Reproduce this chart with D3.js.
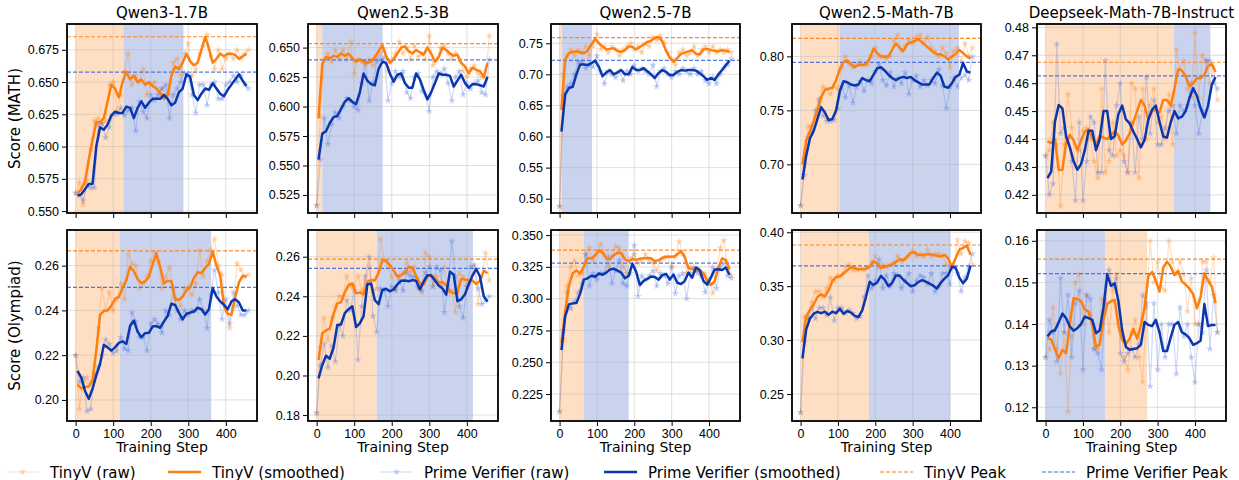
<!DOCTYPE html>
<html>
<head>
<meta charset="utf-8">
<script src="https://cdn.jsdelivr.net/npm/d3@7"></script>
<style>
  body { margin: 0; background: #fff; }
  svg { font-family: "DejaVu Sans", sans-serif; }
</style>
</head>
<body>
<div class="viz"></div>
<script>
const w = 1239;
const h = 480;

// ---- data: raw points every 10 steps from 0, smoothed every 10 steps from 5 ----

// Qwen3-1.7B, MATH
const q3mTinyRaw = [0.564,0.572,0.555,0.573,0.598,0.620,0.622,0.618,0.620,0.648,0.650,0.628,0.640,0.658,0.672,0.648,0.655,0.650,0.660,0.640,0.648,0.650,0.642,0.645,0.640,0.640,0.665,0.668,0.655,0.672,0.680,0.655,0.660,0.672,0.678,0.687,0.670,0.660,0.675,0.660,0.668,0.672,0.668,0.675,0.668,0.672,0.675];
const q3mTinySm = [0.564,0.567,0.573,0.590,0.605,0.619,0.619,0.622,0.635,0.648,0.645,0.638,0.650,0.658,0.652,0.655,0.650,0.652,0.648,0.650,0.647,0.645,0.642,0.637,0.640,0.655,0.662,0.660,0.665,0.672,0.666,0.663,0.665,0.675,0.685,0.676,0.665,0.668,0.672,0.670,0.672,0.672,0.671,0.668,0.670,0.672];
const q3mPrimeRaw = [0.564,0.562,0.558,0.570,0.568,0.568,0.617,0.618,0.607,0.615,0.625,0.625,0.630,0.624,0.628,0.630,0.612,0.635,0.627,0.622,0.640,0.636,0.640,0.645,0.648,0.622,0.640,0.645,0.650,0.657,0.655,0.640,0.626,0.648,0.648,0.632,0.648,0.650,0.637,0.637,0.648,0.650,0.655,0.650,0.655,0.648,0.645];
const q3mPrimeSm = [0.562,0.563,0.567,0.571,0.571,0.600,0.615,0.613,0.617,0.624,0.627,0.626,0.626,0.631,0.630,0.622,0.630,0.635,0.630,0.634,0.637,0.637,0.637,0.640,0.637,0.632,0.634,0.642,0.645,0.656,0.654,0.640,0.636,0.641,0.645,0.644,0.649,0.645,0.641,0.639,0.644,0.648,0.652,0.656,0.651,0.647];

// Qwen2.5-3B, MATH
const q3bmTinyRaw = [0.516,0.592,0.640,0.645,0.638,0.648,0.640,0.648,0.640,0.655,0.628,0.640,0.638,0.635,0.640,0.635,0.642,0.645,0.648,0.630,0.640,0.645,0.655,0.645,0.650,0.640,0.652,0.642,0.645,0.640,0.660,0.635,0.640,0.650,0.652,0.645,0.640,0.645,0.640,0.630,0.625,0.632,0.635,0.628,0.625,0.625,0.660];
const q3bmTinySm = [0.590,0.636,0.642,0.641,0.643,0.642,0.645,0.643,0.645,0.641,0.638,0.640,0.638,0.637,0.638,0.642,0.647,0.652,0.643,0.637,0.640,0.645,0.650,0.651,0.647,0.645,0.648,0.646,0.644,0.650,0.645,0.638,0.642,0.650,0.648,0.645,0.643,0.644,0.637,0.634,0.628,0.633,0.631,0.630,0.625,0.637];
const q3bmPrimeRaw = [0.516,0.555,0.590,0.568,0.585,0.595,0.590,0.600,0.607,0.605,0.600,0.597,0.620,0.638,0.605,0.620,0.638,0.640,0.642,0.605,0.620,0.630,0.625,0.630,0.612,0.607,0.625,0.628,0.613,0.610,0.596,0.625,0.630,0.628,0.632,0.620,0.605,0.625,0.630,0.610,0.620,0.615,0.620,0.622,0.612,0.610,0.640];
const q3bmPrimeSm = [0.555,0.577,0.579,0.586,0.591,0.592,0.598,0.604,0.607,0.604,0.602,0.612,0.628,0.622,0.619,0.618,0.632,0.638,0.637,0.628,0.621,0.627,0.628,0.620,0.616,0.616,0.628,0.623,0.614,0.606,0.612,0.620,0.628,0.627,0.627,0.626,0.617,0.622,0.627,0.620,0.616,0.619,0.619,0.618,0.617,0.625];

// Qwen2.5-7B, MATH
const q7mTinyRaw = [0.488,0.700,0.730,0.740,0.730,0.740,0.735,0.745,0.730,0.745,0.765,0.740,0.745,0.735,0.745,0.740,0.730,0.740,0.745,0.750,0.740,0.745,0.735,0.750,0.745,0.760,0.755,0.762,0.750,0.735,0.725,0.715,0.735,0.740,0.730,0.735,0.745,0.730,0.740,0.745,0.735,0.745,0.735,0.740,0.735,0.740,0.735];
const q7mTinySm = [0.643,0.724,0.734,0.736,0.737,0.735,0.734,0.738,0.748,0.757,0.750,0.745,0.740,0.741,0.742,0.738,0.736,0.739,0.745,0.744,0.740,0.744,0.748,0.752,0.754,0.759,0.760,0.753,0.738,0.727,0.720,0.726,0.733,0.735,0.737,0.739,0.733,0.732,0.740,0.741,0.739,0.738,0.737,0.739,0.738,0.736];
const q7mPrimeRaw = [0.488,0.665,0.680,0.685,0.700,0.720,0.720,0.710,0.715,0.712,0.730,0.705,0.685,0.705,0.700,0.695,0.705,0.690,0.705,0.700,0.715,0.705,0.710,0.705,0.700,0.715,0.680,0.705,0.710,0.700,0.695,0.705,0.700,0.710,0.705,0.700,0.710,0.700,0.705,0.690,0.685,0.695,0.685,0.700,0.710,0.715,0.725];
const q7mPrimeSm = [0.608,0.668,0.678,0.680,0.700,0.716,0.716,0.715,0.718,0.722,0.712,0.697,0.703,0.707,0.700,0.703,0.707,0.700,0.700,0.712,0.707,0.707,0.710,0.705,0.700,0.694,0.702,0.707,0.704,0.699,0.699,0.704,0.707,0.706,0.707,0.707,0.706,0.702,0.697,0.691,0.694,0.691,0.700,0.707,0.715,0.722];

// Qwen2.5-Math-7B, MATH
const qm7mTinyRaw = [0.662,0.700,0.735,0.735,0.745,0.760,0.772,0.770,0.765,0.772,0.770,0.790,0.800,0.793,0.790,0.793,0.795,0.792,0.792,0.800,0.808,0.800,0.800,0.798,0.800,0.815,0.820,0.805,0.810,0.815,0.812,0.818,0.820,0.812,0.818,0.808,0.805,0.800,0.808,0.803,0.790,0.805,0.808,0.795,0.812,0.800,0.808];
const qm7mTinySm = [0.700,0.722,0.731,0.740,0.750,0.762,0.769,0.770,0.771,0.778,0.788,0.795,0.796,0.793,0.790,0.792,0.792,0.793,0.798,0.807,0.803,0.800,0.800,0.800,0.806,0.812,0.808,0.805,0.811,0.813,0.814,0.816,0.813,0.810,0.807,0.804,0.802,0.802,0.800,0.797,0.800,0.802,0.806,0.803,0.800,0.798];
const qm7mPrimeRaw = [0.662,0.690,0.725,0.730,0.750,0.760,0.745,0.740,0.740,0.741,0.752,0.772,0.762,0.773,0.757,0.772,0.777,0.768,0.778,0.775,0.786,0.793,0.778,0.773,0.785,0.772,0.780,0.775,0.785,0.765,0.778,0.782,0.772,0.778,0.773,0.778,0.775,0.788,0.773,0.752,0.772,0.780,0.772,0.780,0.783,0.778,0.800];
const qm7mPrimeSm = [0.686,0.708,0.724,0.731,0.742,0.753,0.748,0.741,0.742,0.750,0.768,0.777,0.776,0.774,0.773,0.774,0.780,0.778,0.777,0.783,0.789,0.790,0.787,0.783,0.780,0.778,0.780,0.781,0.780,0.781,0.778,0.776,0.774,0.774,0.774,0.780,0.785,0.782,0.772,0.771,0.775,0.781,0.783,0.794,0.786,0.785];

// Deepseek-Math-7B-Instruct, MATH
const dsmTinyRaw = [0.434,0.436,0.446,0.438,0.416,0.438,0.456,0.444,0.430,0.436,0.443,0.444,0.440,0.432,0.426,0.458,0.428,0.432,0.446,0.434,0.436,0.434,0.428,0.460,0.458,0.426,0.458,0.440,0.452,0.458,0.446,0.448,0.440,0.456,0.438,0.472,0.465,0.468,0.458,0.455,0.478,0.455,0.470,0.468,0.460,0.466,0.454];
const dsmTinySm = [0.4391,0.4386,0.4400,0.4289,0.4290,0.4385,0.4415,0.4395,0.4360,0.4395,0.4425,0.4435,0.4405,0.4380,0.4412,0.4405,0.4400,0.4413,0.4427,0.4412,0.4380,0.4395,0.4420,0.4460,0.4500,0.4540,0.4520,0.4470,0.4500,0.4505,0.4495,0.4540,0.4540,0.4520,0.4580,0.4650,0.4645,0.4625,0.4590,0.4600,0.4618,0.4618,0.4630,0.4662,0.4668,0.4640];
const dsmPrimeRaw = [0.434,0.420,0.424,0.474,0.442,0.444,0.440,0.432,0.418,0.446,0.418,0.432,0.448,0.446,0.428,0.428,0.468,0.436,0.434,0.452,0.460,0.432,0.428,0.446,0.428,0.448,0.440,0.462,0.442,0.454,0.438,0.438,0.444,0.450,0.452,0.442,0.452,0.450,0.452,0.460,0.452,0.442,0.450,0.468,0.468,0.460,0.458];
const dsmPrimeSm = [0.4260,0.4283,0.4462,0.4522,0.4510,0.4409,0.4370,0.4320,0.4290,0.4310,0.4360,0.4430,0.4430,0.4360,0.4400,0.4500,0.4500,0.4400,0.4410,0.4490,0.4520,0.4470,0.4456,0.4427,0.4400,0.4370,0.4397,0.4470,0.4505,0.4520,0.4462,0.4409,0.4405,0.4460,0.4500,0.4474,0.4480,0.4500,0.4546,0.4582,0.4555,0.4510,0.4477,0.4520,0.4595,0.4622];

// Qwen3-1.7B, Olympiad
const q3oTinyRaw = [0.220,0.196,0.208,0.210,0.207,0.212,0.232,0.250,0.240,0.248,0.240,0.245,0.252,0.245,0.265,0.261,0.260,0.250,0.252,0.255,0.262,0.266,0.262,0.250,0.255,0.259,0.250,0.245,0.242,0.250,0.250,0.247,0.252,0.267,0.255,0.262,0.267,0.272,0.260,0.256,0.240,0.232,0.242,0.261,0.258,0.255,0.256];
const q3oTinySm = [0.2070,0.2052,0.2058,0.2060,0.2090,0.2220,0.2380,0.2398,0.2400,0.2420,0.2451,0.2460,0.2500,0.2535,0.2596,0.2575,0.2540,0.2522,0.2529,0.2550,0.2605,0.2655,0.2596,0.2520,0.2532,0.2530,0.2447,0.2447,0.2462,0.2490,0.2502,0.2545,0.2570,0.2566,0.2590,0.2608,0.2663,0.2600,0.2555,0.2420,0.2385,0.2380,0.2460,0.2525,0.2555,0.2550];
const q3oPrimeRaw = [0.220,0.208,0.210,0.195,0.196,0.211,0.215,0.220,0.227,0.225,0.221,0.222,0.228,0.223,0.222,0.239,0.235,0.228,0.228,0.222,0.234,0.236,0.234,0.230,0.240,0.238,0.250,0.240,0.236,0.240,0.238,0.240,0.240,0.245,0.240,0.232,0.247,0.258,0.248,0.236,0.245,0.234,0.248,0.242,0.238,0.238,0.240];
const q3oPrimeSm = [0.2130,0.2100,0.2040,0.2005,0.2050,0.2110,0.2160,0.2246,0.2235,0.2220,0.2235,0.2255,0.2262,0.2250,0.2330,0.2355,0.2305,0.2280,0.2298,0.2300,0.2328,0.2330,0.2322,0.2350,0.2375,0.2430,0.2424,0.2390,0.2360,0.2385,0.2390,0.2395,0.2412,0.2405,0.2382,0.2405,0.2500,0.2462,0.2440,0.2425,0.2405,0.2440,0.2450,0.2435,0.2400,0.2400];

// Qwen2.5-3B, Olympiad
const q3boTinyRaw = [0.181,0.214,0.229,0.218,0.229,0.235,0.240,0.240,0.250,0.245,0.245,0.250,0.243,0.248,0.255,0.243,0.244,0.269,0.258,0.255,0.250,0.243,0.250,0.252,0.257,0.252,0.255,0.244,0.242,0.262,0.260,0.245,0.250,0.245,0.255,0.242,0.243,0.232,0.252,0.250,0.245,0.248,0.255,0.236,0.250,0.262,0.248];
const q3boTinySm = [0.2078,0.2213,0.2227,0.2238,0.2310,0.2364,0.2370,0.2420,0.2457,0.2465,0.2415,0.2420,0.2410,0.2474,0.2482,0.2480,0.2520,0.2583,0.2580,0.2558,0.2530,0.2500,0.2507,0.2520,0.2550,0.2545,0.2502,0.2465,0.2460,0.2500,0.2507,0.2490,0.2470,0.2472,0.2455,0.2425,0.2415,0.2418,0.2488,0.2485,0.2480,0.2480,0.2462,0.2478,0.2530,0.2516];
const q3boPrimeRaw = [0.181,0.205,0.216,0.204,0.215,0.207,0.225,0.220,0.238,0.233,0.243,0.208,0.235,0.250,0.260,0.230,0.222,0.244,0.243,0.235,0.245,0.243,0.248,0.243,0.252,0.250,0.250,0.245,0.243,0.252,0.255,0.245,0.255,0.253,0.232,0.245,0.268,0.250,0.235,0.229,0.245,0.255,0.256,0.244,0.236,0.238,0.240];
const q3boPrimeSm = [0.1985,0.2053,0.2100,0.2085,0.2140,0.2255,0.2258,0.2315,0.2335,0.2350,0.2245,0.2263,0.2300,0.2460,0.2465,0.2380,0.2360,0.2432,0.2438,0.2425,0.2435,0.2460,0.2478,0.2480,0.2476,0.2482,0.2478,0.2435,0.2474,0.2507,0.2505,0.2480,0.2455,0.2440,0.2408,0.2524,0.2510,0.2375,0.2385,0.2410,0.2460,0.2505,0.2538,0.2500,0.2400,0.2373];

// Qwen2.5-7B, Olympiad
const q7oTinyRaw = [0.211,0.268,0.310,0.325,0.330,0.318,0.320,0.335,0.340,0.330,0.335,0.343,0.335,0.325,0.333,0.341,0.340,0.325,0.320,0.332,0.335,0.328,0.330,0.335,0.330,0.328,0.322,0.330,0.332,0.333,0.325,0.333,0.345,0.335,0.320,0.325,0.322,0.324,0.318,0.320,0.315,0.304,0.322,0.340,0.346,0.325,0.318];
const q7oTinySm = [0.2650,0.2900,0.3100,0.3200,0.3222,0.3200,0.3250,0.3320,0.3318,0.3340,0.3380,0.3362,0.3315,0.3310,0.3342,0.3362,0.3360,0.3310,0.3295,0.3312,0.3305,0.3315,0.3317,0.3320,0.3318,0.3295,0.3302,0.3322,0.3330,0.3330,0.3330,0.3348,0.3375,0.3330,0.3238,0.3238,0.3215,0.3225,0.3200,0.3140,0.3108,0.3135,0.3240,0.3317,0.3305,0.3230];
const q7oPrimeRaw = [0.211,0.275,0.305,0.292,0.298,0.305,0.312,0.335,0.310,0.320,0.315,0.320,0.320,0.333,0.312,0.322,0.330,0.312,0.310,0.320,0.342,0.302,0.318,0.315,0.318,0.322,0.310,0.320,0.318,0.312,0.325,0.304,0.318,0.320,0.300,0.320,0.325,0.320,0.318,0.305,0.312,0.325,0.308,0.325,0.328,0.318,0.316];
const q7oPrimeSm = [0.2596,0.2860,0.2955,0.2963,0.2965,0.3040,0.3150,0.3160,0.3180,0.3172,0.3198,0.3188,0.3205,0.3230,0.3236,0.3220,0.3205,0.3160,0.3180,0.3275,0.3210,0.3107,0.3140,0.3155,0.3175,0.3170,0.3150,0.3185,0.3195,0.3150,0.3190,0.3125,0.3115,0.3138,0.3205,0.3165,0.3245,0.3225,0.3140,0.3110,0.3165,0.3230,0.3232,0.3225,0.3245,0.3188];

// Qwen2.5-Math-7B, Olympiad
const qm7oTinyRaw = [0.233,0.322,0.320,0.335,0.345,0.345,0.340,0.348,0.358,0.355,0.360,0.360,0.368,0.370,0.365,0.365,0.366,0.365,0.367,0.372,0.378,0.368,0.370,0.368,0.370,0.372,0.378,0.373,0.375,0.378,0.383,0.378,0.380,0.377,0.384,0.378,0.380,0.380,0.378,0.370,0.365,0.367,0.393,0.380,0.392,0.390,0.370];
const qm7oTinySm = [0.2985,0.3220,0.3280,0.3330,0.3400,0.3425,0.3405,0.3460,0.3550,0.3585,0.3589,0.3620,0.3648,0.3678,0.3668,0.3655,0.3660,0.3662,0.3680,0.3730,0.3710,0.3668,0.3678,0.3690,0.3698,0.3725,0.3750,0.3740,0.3775,0.3810,0.3815,0.3790,0.3790,0.3795,0.3796,0.3790,0.3780,0.3776,0.3790,0.3760,0.3680,0.3759,0.3838,0.3855,0.3878,0.3790];
const qm7oPrimeRaw = [0.233,0.298,0.320,0.330,0.320,0.330,0.330,0.323,0.340,0.318,0.330,0.330,0.325,0.328,0.325,0.320,0.322,0.340,0.360,0.348,0.355,0.375,0.348,0.360,0.350,0.362,0.360,0.348,0.355,0.362,0.345,0.355,0.360,0.358,0.352,0.362,0.345,0.350,0.362,0.362,0.352,0.368,0.362,0.345,0.358,0.368,0.380];
const qm7oPrimeSm = [0.2831,0.3100,0.3200,0.3245,0.3262,0.3250,0.3264,0.3236,0.3264,0.3250,0.3290,0.3245,0.3270,0.3255,0.3225,0.3215,0.3275,0.3400,0.3542,0.3510,0.3535,0.3595,0.3560,0.3500,0.3530,0.3600,0.3598,0.3560,0.3530,0.3500,0.3508,0.3538,0.3556,0.3542,0.3525,0.3505,0.3478,0.3530,0.3570,0.3600,0.3680,0.3672,0.3580,0.3527,0.3570,0.3690];

// Deepseek-Math-7B-Instruct, Olympiad
const dsoTinyRaw = [0.132,0.134,0.144,0.134,0.128,0.138,0.119,0.137,0.150,0.152,0.140,0.147,0.142,0.134,0.134,0.146,0.146,0.138,0.148,0.152,0.140,0.132,0.129,0.138,0.141,0.132,0.126,0.144,0.160,0.150,0.155,0.149,0.148,0.160,0.155,0.152,0.155,0.152,0.143,0.151,0.140,0.140,0.155,0.155,0.150,0.156,0.138];
const dsoTinySm = [0.1366,0.1363,0.1340,0.1318,0.1338,0.1330,0.1402,0.1462,0.1460,0.1455,0.1435,0.1430,0.1398,0.1346,0.1350,0.1410,0.1448,0.1455,0.1458,0.1395,0.1362,0.1352,0.1365,0.1388,0.1365,0.1395,0.1440,0.1515,0.1525,0.1505,0.1478,0.1536,0.1550,0.1538,0.1518,0.1528,0.1502,0.1495,0.1485,0.1472,0.1438,0.1465,0.1522,0.1505,0.1490,0.1450];
const dsoPrimeRaw = [0.132,0.141,0.138,0.131,0.151,0.138,0.147,0.132,0.145,0.148,0.129,0.147,0.146,0.134,0.133,0.129,0.145,0.153,0.149,0.151,0.133,0.131,0.133,0.134,0.132,0.135,0.147,0.145,0.125,0.145,0.129,0.140,0.132,0.140,0.140,0.128,0.144,0.137,0.140,0.132,0.126,0.140,0.138,0.153,0.134,0.147,0.138];
const dsoPrimeSm = [0.1370,0.1382,0.1385,0.1404,0.1425,0.1414,0.1394,0.1384,0.1390,0.1400,0.1418,0.1414,0.1410,0.1378,0.1385,0.1440,0.1520,0.1492,0.1498,0.1455,0.1385,0.1345,0.1338,0.1340,0.1342,0.1350,0.1405,0.1398,0.1395,0.1410,0.1380,0.1335,0.1335,0.1368,0.1398,0.1405,0.1380,0.1375,0.1366,0.1350,0.1354,0.1360,0.1448,0.1395,0.1398,0.1398];

// peak lines [TinyV, Prime]
const peaks = [
  [0.6851, 0.6577], [0.6534, 0.6395], [0.7590, 0.7226], [0.8167, 0.7944], [0.4675, 0.4626],
  [0.2666, 0.2503], [0.2588, 0.2541], [0.3382, 0.3280], [0.3882, 0.3688], [0.1556, 0.1521]
];

// shaded step ranges: [start, end, which]
const spans = [
  [[0,127,"t"],[127,287,"p"]], [[0,15,"t"],[15,176,"p"]], [[0,6,"t"],[6,87,"p"]],
  [[0,104,"t"],[104,424,"p"]], [[0,344,"t"],[344,441,"p"]],
  [[0,118,"t"],[118,361,"p"]], [[0,160,"t"],[160,416,"p"]], [[0,64,"t"],[64,185,"p"]],
  [[0,183,"t"],[183,401,"p"]], [[0,160,"p"],[160,272,"t"]]
];

const titles = ["Qwen3-1.7B", "Qwen2.5-3B", "Qwen2.5-7B", "Qwen2.5-Math-7B", "Deepseek-Math-7B-Instruct"];
const rowLabels = ["Score (MATH)", "Score (Olympiad)"];
const xTicks = [0, 100, 200, 300, 400];
const yTicks = [
  [0.550,0.575,0.600,0.625,0.650,0.675], [0.525,0.550,0.575,0.600,0.625,0.650],
  [0.50,0.55,0.60,0.65,0.70,0.75], [0.70,0.75,0.80], [0.42,0.43,0.44,0.45,0.46,0.47,0.48],
  [0.20,0.22,0.24,0.26], [0.18,0.20,0.22,0.24,0.26], [0.225,0.250,0.275,0.300,0.325,0.350],
  [0.25,0.30,0.35,0.40], [0.12,0.13,0.14,0.15,0.16]
];
const yFormats = [".3f", ".3f", ".2f", ".2f", ".2f", ".2f", ".2f", ".3f", ".2f", ".2f"];
const yDomains = [
  [0.5485, 0.695], [0.5097, 0.670], [0.477, 0.781], [0.655, 0.830], [0.4135, 0.4812],
  [0.1906, 0.2759], [0.177, 0.2735], [0.2038, 0.354], [0.225, 0.4021], [0.1167, 0.1626]
];
const series = [
  [q3mTinyRaw, q3mTinySm, q3mPrimeRaw, q3mPrimeSm],
  [q3bmTinyRaw, q3bmTinySm, q3bmPrimeRaw, q3bmPrimeSm],
  [q7mTinyRaw, q7mTinySm, q7mPrimeRaw, q7mPrimeSm],
  [qm7mTinyRaw, qm7mTinySm, qm7mPrimeRaw, qm7mPrimeSm],
  [dsmTinyRaw, dsmTinySm, dsmPrimeRaw, dsmPrimeSm],
  [q3oTinyRaw, q3oTinySm, q3oPrimeRaw, q3oPrimeSm],
  [q3boTinyRaw, q3boTinySm, q3boPrimeRaw, q3boPrimeSm],
  [q7oTinyRaw, q7oTinySm, q7oPrimeRaw, q7oPrimeSm],
  [qm7oTinyRaw, qm7oTinySm, qm7oPrimeRaw, qm7oPrimeSm],
  [dsoTinyRaw, dsoTinySm, dsoPrimeRaw, dsoPrimeSm]
];

// ---- layout ----
const colX = [[67, 257], [308, 498], [551, 740], [792, 981], [1037, 1226]];
const rowY = [[24, 213], [230, 421]];

const orange = "#ff7f0e";
const orangeShade = "#ffdfc4";
const blueRaw = "#4169e1";
const blueSmooth = "#0a37ad";
const blueShade = "#c9d3ee";

const svg = d3.select(".viz")
    .append("svg")
    .attr("width", w)
    .attr("height", h);

const star = d3.symbol().type(d3.symbolStar).size(18);

for (let k = 0; k < 10; k++) {
    const r = Math.floor(k / 5), c = k % 5;
    const [x0, x1] = colX[c];
    const [y0, y1] = rowY[r];

    const x = d3.scaleLinear().domain([-23, 483]).range([x0, x1]);
    const y = d3.scaleLinear().domain(yDomains[k]).range([y1, y0]);

    const g = svg.append("g");
    const clipId = "clip" + k;
    g.append("clipPath").attr("id", clipId)
        .append("rect").attr("x", x0).attr("y", y0).attr("width", x1 - x0).attr("height", y1 - y0);
    const plot = g.append("g").attr("clip-path", `url(#${clipId})`);

    // shaded spans
    plot.selectAll("rect.span")
        .data(spans[k])
        .enter()
        .append("rect")
        .attr("x", d => x(d[0]))
        .attr("y", y0)
        .attr("width", d => x(d[1]) - x(d[0]))
        .attr("height", y1 - y0)
        .style("fill", d => d[2] === "t" ? orangeShade : blueShade);

    // grid
    plot.selectAll("line.gx")
        .data(xTicks)
        .enter()
        .append("line")
        .attr("x1", d => x(d)).attr("x2", d => x(d))
        .attr("y1", y0).attr("y2", y1)
        .style("stroke", "#b0b0b0").style("stroke-opacity", 0.45).style("stroke-width", 0.9);
    plot.selectAll("line.gy")
        .data(yTicks[k])
        .enter()
        .append("line")
        .attr("x1", x0).attr("x2", x1)
        .attr("y1", d => y(d)).attr("y2", d => y(d))
        .style("stroke", "#b0b0b0").style("stroke-opacity", 0.45).style("stroke-width", 0.9);

    const [tRaw, tSm, pRaw, pSm] = series[k];
    const rawPts = arr => arr.map((v, i) => [i * 10, v]);
    const smPts = arr => arr.map((v, i) => [5 + i * 10, v]);
    const line = d3.line().x(d => x(d[0])).y(d => y(d[1]));

    // raw series with star markers
    [[tRaw, orange], [pRaw, blueRaw]].forEach(([arr, col]) => {
        const pts = rawPts(arr);
        plot.append("path")
            .attr("d", line(pts))
            .style("fill", "none")
            .style("stroke", col)
            .style("stroke-opacity", 0.25)
            .style("stroke-width", 1.2);
        plot.selectAll(null)
            .data(pts)
            .enter()
            .append("path")
            .attr("d", star)
            .attr("transform", d => `translate(${x(d[0])},${y(d[1])})`)
            .style("fill", col)
            .style("fill-opacity", 0.3);
    });

    // peak lines
    const pk = peaks[k];
    [[pk[0], orange], [pk[1], blueRaw]].forEach(([v, col]) => {
        plot.append("line")
            .attr("x1", x0).attr("x2", x1)
            .attr("y1", y(v)).attr("y2", y(v))
            .style("stroke", col)
            .style("stroke-width", 1.2)
            .style("stroke-opacity", 0.9)
            .style("stroke-dasharray", "4,2");
    });

    // smoothed lines
    [[tSm, orange], [pSm, blueSmooth]].forEach(([arr, col]) => {
        plot.append("path")
            .attr("d", line(smPts(arr)))
            .style("fill", "none")
            .style("stroke", col)
            .style("stroke-width", 2.5)
            .style("stroke-linejoin", "round");
    });

    // frame
    g.append("rect")
        .attr("x", x0).attr("y", y0)
        .attr("width", x1 - x0).attr("height", y1 - y0)
        .style("fill", "none")
        .style("stroke", "#000")
        .style("stroke-width", 1.8);

    // axes
    const yAxis = d3.axisLeft(y).tickValues(yTicks[k]).tickFormat(d3.format(yFormats[k])).tickSize(4).tickPadding(3);
    const ya = g.append("g").attr("transform", `translate(${x0 - 1},0)`).call(yAxis);
    const xAxis = d3.axisBottom(x).tickValues(xTicks).tickSize(4).tickPadding(3)
        .tickFormat(r === 1 ? d3.format("d") : "");
    const xa = g.append("g").attr("transform", `translate(0,${y1 + 1})`).call(xAxis);
    [ya, xa].forEach(a => {
        a.select(".domain").remove();
        a.selectAll("text").style("font-size", "12.5px").style("fill", "#000");
        a.selectAll("line").style("stroke", "#000");
    });

    // title
    if (r === 0) {
        svg.append("text")
            .attr("x", (x0 + x1) / 2).attr("y", y0 - 6)
            .attr("text-anchor", "middle")
            .style("font-size", "15px")
            .text(titles[c]);
    } else {
        svg.append("text")
            .attr("x", x(230)).attr("y", 452)
            .attr("text-anchor", "middle")
            .style("font-size", "14px")
            .text("Training Step");
    }
    if (c === 0) {
        svg.append("text")
            .attr("transform", `translate(20,${(y0 + y1) / 2}) rotate(-90)`)
            .attr("text-anchor", "middle")
            .style("font-size", "15px")
            .text(rowLabels[r]);
    }
}

// ---- legend ----
const legendItems = [
    {label: "TinyV (raw)", x: 6, col: orange, kind: "raw"},
    {label: "TinyV (smoothed)", x: 168, col: orange, kind: "smooth"},
    {label: "Prime Verifier (raw)", x: 380, col: blueRaw, kind: "raw"},
    {label: "Prime Verifier (smoothed)", x: 604, col: blueSmooth, kind: "smooth"},
    {label: "TinyV Peak", x: 880, col: orange, kind: "peak"},
    {label: "Prime Verifier Peak", x: 1042, col: blueRaw, kind: "peak"}
];
const ly = 472;
const lg = svg.append("g");
legendItems.forEach(it => {
    const ln = lg.append("line")
        .attr("x1", it.x).attr("x2", it.x + 33)
        .attr("y1", ly).attr("y2", ly)
        .style("stroke", it.col);
    if (it.kind === "raw") {
        ln.style("stroke-opacity", 0.25).style("stroke-width", 1.2);
        lg.append("path").attr("d", star)
            .attr("transform", `translate(${it.x + 16.5},${ly})`)
            .style("fill", it.col).style("fill-opacity", 0.3);
    } else if (it.kind === "smooth") {
        ln.style("stroke-width", 2.5);
    } else {
        ln.style("stroke-width", 1.2).style("stroke-dasharray", "4,2");
    }
    lg.append("text")
        .attr("x", it.x + 44).attr("y", ly + 5.5)
        .style("font-size", "15px")
        .text(it.label);
});
</script>
</body>
</html>
